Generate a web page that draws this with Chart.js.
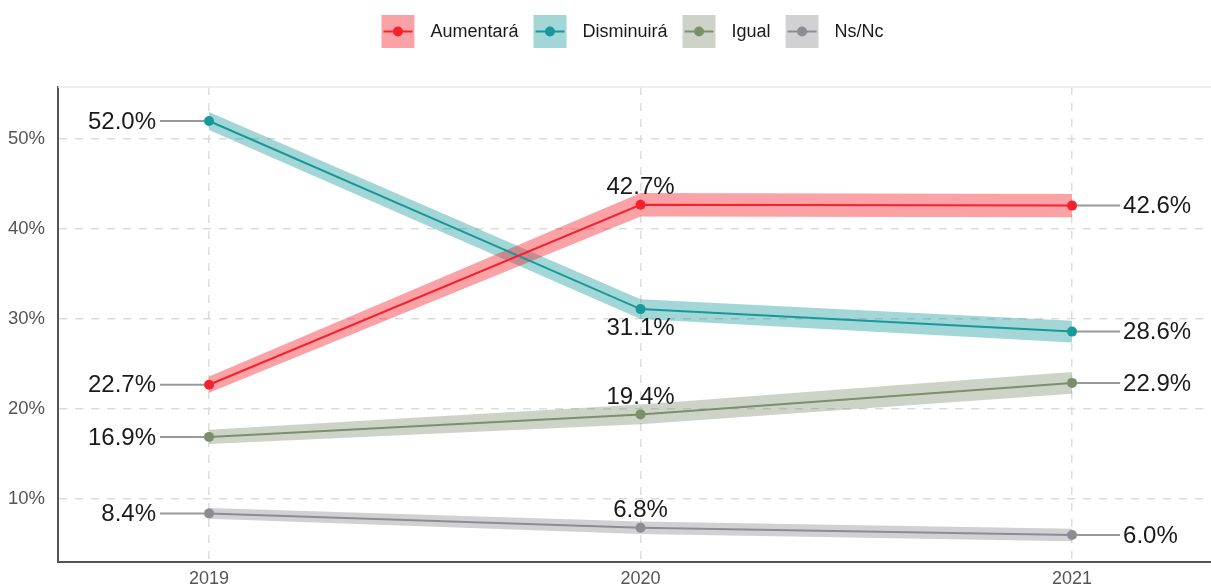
<!DOCTYPE html>
<html>
<head>
<meta charset="utf-8">
<script src="https://cdn.jsdelivr.net/npm/chart.js@4/dist/chart.umd.min.js"></script>
<style>
  html, body { margin: 0; padding: 0; background: #fff; overflow: hidden; }
</style>
</head>
<body>
<canvas id="grafico" width="1211" height="587"></canvas>
<script>
const anos = [2019, 2020, 2021];
const series = ['Aumentará', 'Disminuirá', 'Igual', 'Ns/Nc'];

const aumentara    = [22.7, 42.7, 42.6];
const aumentaraMin = [21.8, 41.4, 41.3];
const aumentaraMax = [23.6, 44.0, 43.9];

const disminuira    = [52.0, 31.1, 28.6];
const disminuiraMin = [51.0, 30.0, 27.4];
const disminuiraMax = [53.0, 32.2, 29.8];

const igual    = [16.9, 19.4, 22.9];
const igualMin = [16.1, 18.3, 21.7];
const igualMax = [17.7, 20.5, 24.1];

const nsnc    = [8.4, 6.8, 6.0];
const nsncMin = [7.8, 6.1, 5.3];
const nsncMax = [9.0, 7.5, 6.7];

const ticksY = [10, 20, 30, 40, 50];

// estilos
const coresLinha = ['#F5222D', '#17999B', '#7C8F6B', '#8C8C94'];
const coresBanda = ['rgba(245,34,45,0.42)', 'rgba(23,153,155,0.40)', 'rgba(124,143,107,0.38)', 'rgba(140,140,148,0.40)'];
const lado2020 = ['acima', 'abaixo', 'acima', 'acima'];
const fonte = '"Liberation Sans", Arial, Helvetica, sans-serif';

const valores = [aumentara, disminuira, igual, nsnc];
const minimos = [aumentaraMin, disminuiraMin, igualMin, nsncMin];
const maximos = [aumentaraMax, disminuiraMax, igualMax, nsncMax];

const pontos = arr => arr.map((v, i) => ({ x: anos[i], y: v }));

const datasets = [];
series.forEach((nome, s) => {
  datasets.push({
    label: nome + ' min', data: pontos(minimos[s]),
    borderWidth: 0, pointRadius: 0, fill: false, order: 10
  });
  datasets.push({
    label: nome + ' max', data: pontos(maximos[s]),
    borderWidth: 0, pointRadius: 0, fill: '-1', backgroundColor: coresBanda[s], order: 10
  });
  datasets.push({
    label: nome, data: pontos(valores[s]),
    borderColor: coresLinha[s], backgroundColor: coresLinha[s],
    borderWidth: 2, pointRadius: 5, pointBorderWidth: 0, pointHoverRadius: 5,
    fill: false, order: s
  });
});

// rótulos com linhas guia
const rotulos = {
  id: 'rotulos',
  beforeDatasetsDraw(chart) {
    const { ctx, chartArea } = chart;
    ctx.save();
    ctx.strokeStyle = '#EBEBEB';
    ctx.lineWidth = 1.5;
    ctx.beginPath();
    ctx.moveTo(chartArea.left, chartArea.top);
    ctx.lineTo(chartArea.right, chartArea.top);
    ctx.stroke();
    ctx.restore();
  },
  afterDatasetsDraw(chart) {
    const { ctx, scales: { x, y } } = chart;
    ctx.save();
    ctx.font = '24px ' + fonte;
    ctx.fillStyle = '#1a1a1a';
    valores.forEach((serie, s) => {
      serie.forEach((v, i) => {
        const px = x.getPixelForValue(anos[i]);
        const py = y.getPixelForValue(v);
        const txt = v.toFixed(1) + '%';
        ctx.textBaseline = 'middle';
        if (i === 0) {
          ctx.strokeStyle = '#999';
          ctx.lineWidth = 2;
          ctx.beginPath();
          ctx.moveTo(px - 49, py);
          ctx.lineTo(px - 5, py);
          ctx.stroke();
          ctx.textAlign = 'right';
          ctx.fillText(txt, px - 53, py + 1);
        } else if (i === anos.length - 1) {
          ctx.strokeStyle = '#999';
          ctx.lineWidth = 2;
          ctx.beginPath();
          ctx.moveTo(px + 5, py);
          ctx.lineTo(px + 48, py);
          ctx.stroke();
          ctx.textAlign = 'left';
          ctx.fillText(txt, px + 51, py + 1);
        } else {
          ctx.textAlign = 'center';
          const dy = lado2020[s] === 'acima' ? -17 : 19;
          ctx.fillText(txt, px, py + dy);
        }
      });
    });
    ctx.restore();
  },
  afterDraw(chart) {
    // legenda
    const { ctx, chartArea } = chart;
    ctx.save();
    ctx.font = '18px ' + fonte;
    const caixa = 33, gapTxt = 16, gapItem = 15;
    const larguras = series.map(n => ctx.measureText(n).width);
    const total = larguras.reduce((a, w) => a + caixa + gapTxt + w, 0) + gapItem * (series.length - 1);
    let xx = (chartArea.left + chartArea.right) / 2 - total / 2 - 2;
    const cy = 31.5;
    series.forEach((nome, s) => {
      ctx.fillStyle = coresBanda[s];
      ctx.fillRect(xx, cy - caixa / 2, caixa, caixa);
      ctx.strokeStyle = coresLinha[s];
      ctx.lineWidth = 2;
      ctx.beginPath();
      ctx.moveTo(xx + 2, cy);
      ctx.lineTo(xx + caixa - 2, cy);
      ctx.stroke();
      ctx.fillStyle = coresLinha[s];
      ctx.beginPath();
      ctx.arc(xx + caixa / 2, cy, 5, 0, Math.PI * 2);
      ctx.fill();
      ctx.fillStyle = '#1a1a1a';
      ctx.textAlign = 'left';
      ctx.textBaseline = 'middle';
      ctx.fillText(nome, xx + caixa + gapTxt, cy + 1);
      xx += caixa + gapTxt + larguras[s] + gapItem;
    });
    ctx.restore();
  }
};

const gradeComum = { color: '#DCDCDC', lineWidth: 1.5, drawTicks: false };

const ctx = document.getElementById('grafico').getContext('2d');
const grafico = new Chart(ctx, {
  type: 'line',
  data: { datasets },
  plugins: [rotulos],
  options: {
    responsive: false,
    devicePixelRatio: 1,
    animation: false,
    events: [],
    layout: { autoPadding: false, padding: { top: 87, left: 0, right: 0, bottom: 0 } },
    elements: { line: { tension: 0 } },
    scales: {
      x: {
        type: 'linear',
        min: 2018.65,
        max: 2021.322,
        afterBuildTicks: s => { s.ticks = anos.map(v => ({ value: v })); },
        afterFit: s => { s.height = 25; s.paddingLeft = 0; s.paddingRight = 0; },
        grid: gradeComum,
        border: { display: true, color: '#555', width: 2, dash: [8, 8] },
        ticks: {
          padding: 6, color: '#555',
          font: { family: fonte, size: 18 },
          callback: v => String(v)
        }
      },
      y: {
        min: 3,
        max: 55.78,
        afterBuildTicks: s => { s.ticks = ticksY.map(v => ({ value: v })); },
        afterFit: s => { s.width = 58; s.paddingTop = 0; s.paddingBottom = 0; },
        grid: gradeComum,
        border: { display: true, color: '#555', width: 2, dash: [8, 8] },
        ticks: {
          padding: 13, color: '#555',
          font: { family: fonte, size: 18.5 },
          callback: v => v + '%'
        }
      }
    },
    plugins: {
      legend: { display: false },
      tooltip: { enabled: false },
      filler: { propagate: false, drawTime: 'beforeDatasetsDraw' }
    }
  }
});
</script>
</body>
</html>
